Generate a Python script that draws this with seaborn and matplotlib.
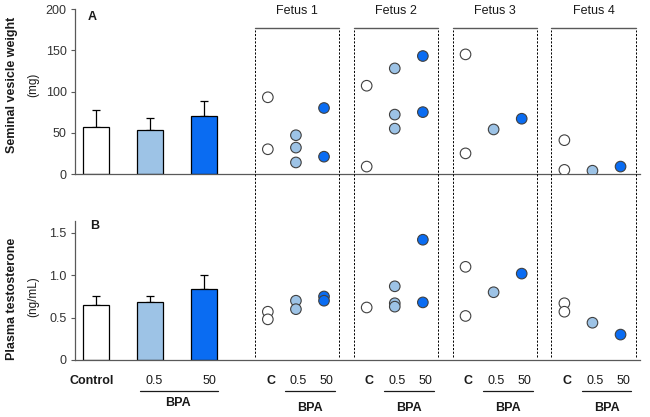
import numpy as np
import pandas as pd
import matplotlib.pyplot as plt
from matplotlib.lines import Line2D
import seaborn as sns

sns.set_style("white")
plt.rcParams["font.family"] = ["Liberation Sans", "DejaVu Sans"]
plt.rcParams["font.size"] = 8.5

TXT = "#1a1a1a"
AXIS_GREY = "#595959"

# ==========================================
# DATA
# ==========================================
DOSES = ["C", "0.5", "50"]
BAR_LABELS = ["Control", "0.5", "50"]
DOSE_COLORS = ["#FFFFFF", "#9DC3E6", "#0A6CF2"]

# group means + upper error (SD)
weight_mean = [57, 53, 70]
weight_err = [21, 15, 19]
testo_mean = [0.65, 0.69, 0.84]
testo_err = [0.10, 0.07, 0.16]

FETUSES = ["Fetus 1", "Fetus 2", "Fetus 3", "Fetus 4"]

# seminal vesicle weight (mg), individual males
wt_fetus = ["Fetus 1"] * 7 + ["Fetus 2"] * 7 + ["Fetus 3"] * 4 + ["Fetus 4"] * 4
wt_dose = ["C", "C", "0.5", "0.5", "0.5", "50", "50",
           "C", "C", "0.5", "0.5", "0.5", "50", "50",
           "C", "C", "0.5", "50",
           "C", "C", "0.5", "50"]
wt_value = [93, 30, 47, 32, 14, 80, 21,
            107, 9, 128, 72, 55, 143, 75,
            145, 25, 54, 67,
            41, 5, 4, 9]

# plasma testosterone (ng/mL), individual males
tt_fetus = ["Fetus 1"] * 6 + ["Fetus 2"] * 6 + ["Fetus 3"] * 4 + ["Fetus 4"] * 4
tt_dose = ["C", "C", "0.5", "0.5", "50", "50",
           "C", "0.5", "0.5", "0.5", "50", "50",
           "C", "C", "0.5", "50",
           "C", "C", "0.5", "50"]
tt_value = [0.57, 0.48, 0.70, 0.60, 0.75, 0.70,
            0.62, 0.87, 0.67, 0.63, 1.42, 0.68,
            1.10, 0.52, 0.80, 1.02,
            0.67, 0.57, 0.44, 0.30]

# ==========================================
# LAYOUT (x in "bar slot" units)
# ==========================================
bar_pos = [0, 1, 2]
fetus_center = {f: 3.70 + 1.83 * i for i, f in enumerate(FETUSES)}
dose_offset = {"C": -0.52, "0.5": 0.0, "50": 0.52}
X_LIM = (-0.39, 10.07)

palette = dict(zip(DOSES, DOSE_COLORS))

fig = plt.figure(figsize=(6.5, 4.17), dpi=100)
ax_a = fig.add_axes([75 / 650, 1 - 174 / 417, 565 / 650, 165 / 417])
ax_b = fig.add_axes([75 / 650, 1 - 360 / 417, 565 / 650, 139 / 417])


def draw_panel(ax, means, errs, fetus, dose, value, ylim, yticks, yticklabels):
    bars = pd.DataFrame({"x": bar_pos, "y": means, "grp": BAR_LABELS})
    sns.barplot(data=bars, x="x", y="y", hue="grp", palette=DOSE_COLORS,
                native_scale=True, width=0.47, saturation=1,
                edgecolor="black", linewidth=0.9,
                legend=False, ax=ax, zorder=2)
    ax.errorbar(bar_pos, means, yerr=[[0] * 3, errs], fmt="none",
                ecolor="black", elinewidth=0.9, capsize=3, capthick=0.9, zorder=1)

    pts = pd.DataFrame({"fetus": fetus, "dose": dose, "value": value})
    pts["x"] = pts["fetus"].map(fetus_center) + pts["dose"].map(dose_offset)
    sns.scatterplot(data=pts, x="x", y="value", hue="dose", palette=palette,
                    s=58, edgecolor="#404040", linewidth=0.8, legend=False,
                    ax=ax, zorder=3)

    ax.set_xlim(*X_LIM)
    ax.set_ylim(*ylim)
    ax.set_xticks([])
    ax.set_yticks(yticks)
    ax.set_yticklabels(yticklabels, color="#333333", fontsize=9)
    ax.tick_params(axis="y", length=3, width=0.8, color=AXIS_GREY, pad=3, left=True)
    ax.set_xlabel("")
    ax.set_ylabel("")
    for s in ["top", "right"]:
        ax.spines[s].set_visible(False)
    for s in ["left", "bottom"]:
        ax.spines[s].set_color(AXIS_GREY)
        ax.spines[s].set_linewidth(0.9)
    ax.patch.set_alpha(0)


draw_panel(ax_a, weight_mean, weight_err, wt_fetus, wt_dose, wt_value,
           (0, 200), [0, 50, 100, 150, 200], ["0", "50", "100", "150", "200"])
draw_panel(ax_b, testo_mean, testo_err, tt_fetus, tt_dose, tt_value,
           (0, 139 / 84.7), [0, 0.5, 1.0, 1.5], ["0", "0.5", "1.0", "1.5"])

# panel letters
ax_a.text(0.022, 0.985, "A", transform=ax_a.transAxes, fontweight="bold",
          fontsize=9, va="top", color=TXT)
ax_b.text(0.026, 1.01, "B", transform=ax_b.transAxes, fontweight="bold",
          fontsize=9, va="top", color=TXT)

# y labels
fig.text(12 / 650, 1 - 85 / 417, "Seminal vesicle weight", rotation=90,
         fontweight="bold", fontsize=9, ha="center", va="center", color=TXT)
fig.text(33 / 650, 1 - 85 / 417, "(mg)", rotation=90, fontsize=8.5,
         ha="center", va="center", color=TXT)
fig.text(12 / 650, 1 - 299 / 417, "Plasma testosterone", rotation=90,
         fontweight="bold", fontsize=9, ha="center", va="center", color=TXT)
fig.text(33 / 650, 1 - 297 / 417, "(ng/mL)", rotation=90, fontsize=8.5,
         ha="center", va="center", color=TXT)

# ==========================================
# FETUS BOXES (dashed verticals spanning both panels)
# ==========================================
to_fig = fig.transFigure.inverted()


def fig_x(x):
    return to_fig.transform(ax_b.transData.transform((x, 0)))[0]


y_top = 1 - 30 / 417
y_bot = 1 - 357 / 417
y_head = 1 - 28 / 417
y_name = 1 - 11 / 417
for f in FETUSES:
    c = fetus_center[f]
    left, right = fig_x(c - 0.76), fig_x(c + 0.80)
    for xx in (left, right):
        fig.add_artist(Line2D([xx, xx], [y_bot, y_top], color="black", lw=0.7,
                              ls=(0, (2.2, 1.6)), transform=fig.transFigure))
    fig.add_artist(Line2D([left, right], [y_head, y_head], color=AXIS_GREY, lw=1.0,
                          transform=fig.transFigure))
    fig.text((left + right) / 2, y_name, f, ha="center", va="center",
             fontsize=9, color=TXT)

# ==========================================
# X LABELS
# ==========================================
y_lab = 1 - 381 / 417
y_line = 1 - 391 / 417

for i, lab in enumerate(BAR_LABELS):
    xx = fig_x(bar_pos[i] + [-0.09, 0.07, 0.09][i])
    fig.text(xx, y_lab, lab, ha="center", va="center", fontsize=9, color=TXT,
             fontweight="bold" if i == 0 else "normal")
fig.add_artist(Line2D([fig_x(0.81), fig_x(2.26)], [y_line, y_line], color=TXT,
                      lw=0.9, transform=fig.transFigure))
fig.text(fig_x(1.52), 1 - 403 / 417, "BPA", ha="center", va="center",
         fontsize=9, fontweight="bold", color=TXT)

for f in FETUSES:
    c = fetus_center[f]
    for d in DOSES:
        xx = fig_x(c + dose_offset[d] + 0.05)
        fig.text(xx, y_lab, d, ha="center", va="center", fontsize=9, color=TXT,
                 fontweight="bold" if d == "C" else "normal")
    fig.add_artist(Line2D([fig_x(c - 0.2), fig_x(c + 0.72)], [y_line, y_line],
                          color=TXT, lw=0.9, transform=fig.transFigure))
    fig.text(fig_x(c + 0.26), 1 - 408 / 417, "BPA", ha="center", va="center",
             fontsize=9, fontweight="bold", color=TXT)

plt.savefig("out.png", dpi=100)
plt.close()
